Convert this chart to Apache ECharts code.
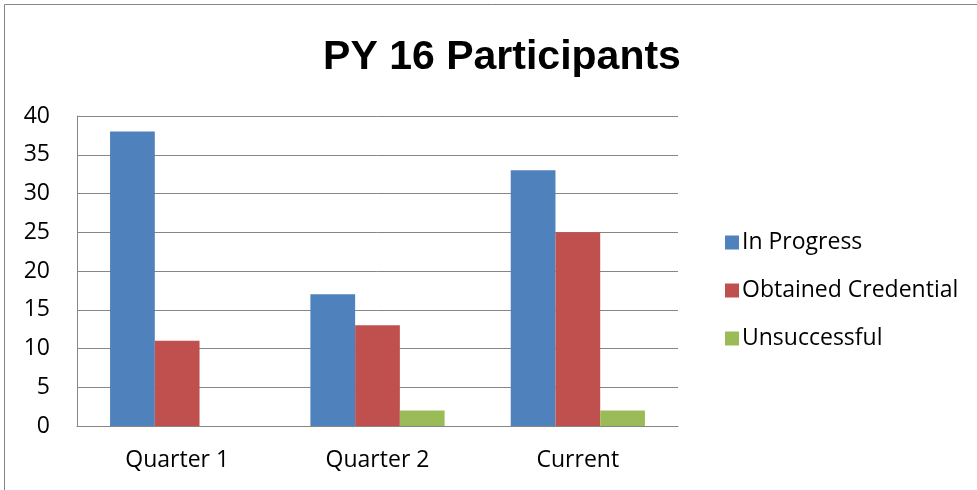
<!DOCTYPE html>
<html><head><meta charset="utf-8">
<script src="https://cdn.jsdelivr.net/npm/echarts@6/dist/echarts.min.js"></script>
<style>html,body{margin:0;padding:0;background:#fff}#c{width:977px;height:490px}</style>
</head><body><div id="c"></div>
<script>
const categories = ['Quarter 1', 'Quarter 2', 'Current'];
const inProgress = [38, 17, 33];
const obtained = [11, 13, 25];
const unsuccessful = [0, 2, 2];
const seriesNames = ['In Progress', 'Obtained Credential', 'Unsuccessful'];
const colors = ['#4F81BD', '#C0504D', '#9BBB59'];

const chart = echarts.init(document.getElementById('c'), null, {renderer: 'canvas'});
const font = 'Open Sans';
chart.setOption({
  animation: false,
  color: colors,
  graphic: [{type: 'rect', shape: {x: 4.5, y: 4.5, width: 990, height: 500}, style: {fill: 'none', stroke: '#868686', lineWidth: 1}}],
  title: {text: 'PY 16 Participants', left: 497, top: 32, textAlign: 'center',
    textStyle: {fontFamily: 'Liberation Sans', fontWeight: 'bold', fontSize: 41, color: '#000'}},
  legend: {orient: 'vertical', left: 720, top: 226, itemWidth: 14, itemHeight: 14, itemGap: 25,
    icon: 'rect', textStyle: {fontFamily: font, fontSize: 23, color: '#000', lineHeight: 23, padding: [0,0,0,-2]}},
  grid: {left: 77, right: 299, top: 116, bottom: 64, containLabel: false},
  xAxis: {type: 'category', data: categories,
    axisLine: {lineStyle: {color: '#868686'}}, axisTick: {show: false},
    axisLabel: {fontFamily: font, fontSize: 23, color: '#000', margin: 23}},
  yAxis: {type: 'value', min: 0, max: 40, interval: 5,
    axisLine: {show: true, lineStyle: {color: '#868686'}}, axisTick: {show: false},
    splitLine: {lineStyle: {color: '#868686'}},
    axisLabel: {fontFamily: font, fontSize: 23, color: '#000', margin: 27}},
  series: [
    {name: seriesNames[0], type: 'bar', data: inProgress, barGap: '0%', barCategoryGap: '33%'},
    {name: seriesNames[1], type: 'bar', data: obtained, barGap: '0%', barCategoryGap: '33%'},
    {name: seriesNames[2], type: 'bar', data: unsuccessful, barGap: '0%', barCategoryGap: '33%'}
  ]
});
</script></body></html>
